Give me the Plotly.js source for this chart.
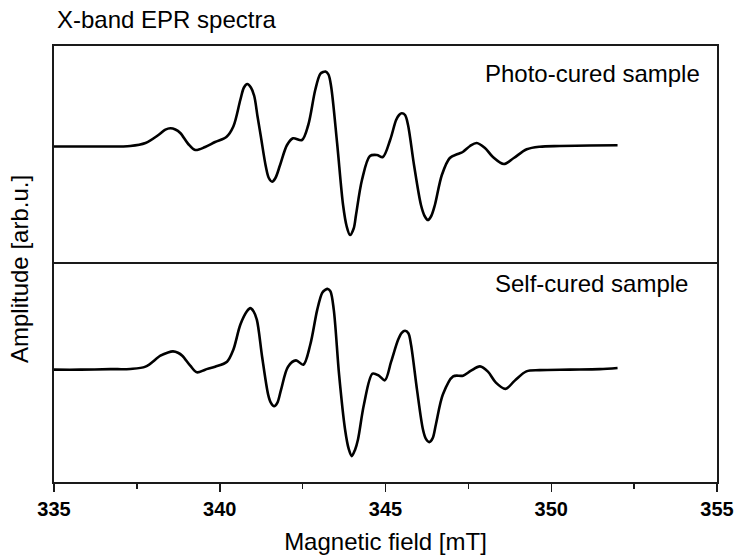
<!DOCTYPE html>
<html>
<head>
<meta charset="utf-8">
<script src="https://cdn.plot.ly/plotly-3.0.1.min.js"></script>
<style>html,body{margin:0;padding:0;background:#fff;}#chart{width:734px;height:559px;}</style>
</head>
<body>
<div id="chart"></div>
<script>
// Magnetic field [mT] and amplitude [arb.u.]
var fieldPhoto = [335.0, 336.40, 337.30, 337.76, 338.15, 338.36, 338.51, 338.66, 338.81, 339.05, 339.26, 339.56, 339.86, 340.20, 340.41, 340.62, 340.73, 340.83, 340.94, 341.04, 341.14, 341.24, 341.39, 341.48, 341.58, 341.68, 341.82, 342.03, 342.21, 342.48, 342.67, 342.88, 343.03, 343.12, 343.19, 343.28, 343.36, 343.54, 343.72, 343.83, 343.93, 344.04, 344.11, 344.29, 344.53, 344.74, 344.92, 345.14, 345.32, 345.41, 345.49, 345.59, 345.68, 345.86, 346.07, 346.18, 346.28, 346.38, 346.49, 346.70, 346.94, 347.18, 347.33, 347.55, 347.75, 348.00, 348.24, 348.57, 348.87, 349.26, 349.65, 350.26, 351.16, 352.00];
var ampPhoto = [0, 0, 0.5, 3.5, 11.5, 16.8, 18.2, 17, 13.5, 2.5, -3.5, -0.5, 4.5, 9.5, 20, 46.5, 59, 62.5, 59, 50.5, 30, 10, -20, -31.5, -35.2, -31.5, -18.5, 1.5, 8.2, 6.5, 21.5, 56.5, 72.5, 74.5, 75, 72, 60, 3.5, -58.5, -80, -88.5, -82, -68.5, -33.5, -9.5, -8.5, -10.5, 6.5, 26.5, 31.5, 33.2, 31.5, 21.5, -18.5, -58.5, -69.5, -73.5, -69.5, -58.5, -28.5, -11.5, -7.5, -5.5, 0.5, 3.5, -1.5, -10.5, -17.5, -11.5, -2.8, -0.2, 0.5, 1, 1.2];

var fieldSelf = [335.0, 335.80, 336.70, 337.30, 337.76, 338.21, 338.44, 338.59, 338.74, 338.87, 339.11, 339.31, 339.56, 339.86, 340.22, 340.41, 340.62, 340.82, 340.92, 341.02, 341.12, 341.28, 341.46, 341.54, 341.64, 341.74, 341.85, 342.06, 342.30, 342.52, 342.73, 342.94, 343.09, 343.18, 343.26, 343.34, 343.44, 343.60, 343.78, 343.89, 343.98, 344.08, 344.17, 344.35, 344.61, 344.80, 344.98, 345.17, 345.38, 345.49, 345.59, 345.69, 345.77, 345.95, 346.13, 346.22, 346.32, 346.42, 346.52, 346.73, 347.04, 347.34, 347.58, 347.85, 348.09, 348.33, 348.62, 348.90, 349.25, 349.65, 350.56, 351.46, 352.00];
var ampSelf = [-0.5, -0.5, 0, 0.2, 2.5, 13.5, 16.8, 17.8, 16.5, 13.5, 3.5, -3.2, -0.5, 2.5, 7.5, 19.5, 44.5, 58, 61.2, 58, 49.5, 12, -25.5, -33.5, -37.2, -33.5, -20.5, 2.5, 8.8, 4.5, 24.5, 59.5, 76.5, 79.5, 80.5, 78, 59.5, -5.5, -60.5, -80, -87.2, -81, -70.5, -35.5, -4.5, -6.5, -11.2, 7.5, 29.5, 36.5, 38.5, 36, 24.5, -20.5, -60.5, -70, -73.2, -69.5, -55.5, -25.5, -7.2, -6.5, -1.5, 2.8, -2.5, -13.5, -19.8, -11.5, -2.2, -1, -0.5, 0, 1.2];

var xTickVals = [335, 340, 345, 350, 355];
var xTickText = ['335', '340', '345', '350', '355'];
var panelLabels = ['Photo-cured sample', 'Self-cured sample'];

var lineStyle = {color: '#000', width: 2.6, shape: 'spline', smoothing: 0.9};
var traces = [
  {x: fieldPhoto, y: ampPhoto, xaxis: 'x2', yaxis: 'y2', mode: 'lines', line: lineStyle, name: panelLabels[0], hoverinfo: 'x+y'},
  {x: fieldSelf, y: ampSelf, xaxis: 'x', yaxis: 'y', mode: 'lines', line: lineStyle, name: panelLabels[1], hoverinfo: 'x+y'}
];

var axColor = '#1a1a1a';
var txtFont = 'Liberation Sans, Arial, sans-serif';
var layout = {
  width: 734, height: 559,
  margin: {l: 54, r: 17, t: 46, b: 77},
  paper_bgcolor: '#fff', plot_bgcolor: '#fff',
  showlegend: false,
  font: {family: txtFont, color: '#000'},
  title: {text: 'X-band EPR spectra', x: 57/734, xanchor: 'left', xref: 'container', y: 1 - 20/559, yref: 'container', yanchor: 'middle', font: {size: 24, family: txtFont, color: '#000'}},
  xaxis: {
    anchor: 'y', domain: [0, 1], range: [335, 355],
    tickvals: xTickVals, ticktext: xTickText,
    ticks: 'outside', ticklen: 8, tickwidth: 1.5, tickcolor: axColor,
    minor: {dtick: 2.5, tick0: 335, ticks: 'outside', ticklen: 5, tickwidth: 1.5, tickcolor: axColor, showgrid: false},
    showline: true, linecolor: axColor, linewidth: 1.8, mirror: true,
    showgrid: false, zeroline: false,
    tickfont: {family: 'Liberation Sans Narrow, Arial Narrow, Liberation Sans, sans-serif', size: 20, weight: 'bold', color: '#000'},
    title: {text: 'Magnetic field [mT]', standoff: 14, font: {size: 24, family: txtFont, color: '#000'}}
  },
  yaxis: {
    anchor: 'x', domain: [0, 0.5], range: [-113.2, 105.5],
    showticklabels: false, ticks: '', showgrid: false, zeroline: false,
    showline: true, linecolor: axColor, linewidth: 1.8, mirror: true
  },
  xaxis2: {
    anchor: 'y2', domain: [0, 1], range: [335, 355], matches: 'x', side: 'top',
    showticklabels: false, ticks: '', showgrid: false, zeroline: false,
    showline: true, linecolor: axColor, linewidth: 1.8, mirror: false
  },
  yaxis2: {
    anchor: 'x2', domain: [0.5, 1], range: [-117.5, 100.5],
    showticklabels: false, ticks: '', showgrid: false, zeroline: false,
    showline: true, linecolor: axColor, linewidth: 1.8, mirror: true
  },
  annotations: [
    {text: panelLabels[0], xref: 'paper', yref: 'paper', x: (702 - 54) / 663, y: (482 - 73) / 436, xanchor: 'right', yanchor: 'middle', showarrow: false, font: {size: 24, family: txtFont, color: '#000'}},
    {text: panelLabels[1], xref: 'paper', yref: 'paper', x: (690 - 54) / 663, y: (482 - 283) / 436, xanchor: 'right', yanchor: 'middle', showarrow: false, font: {size: 24, family: txtFont, color: '#000'}},
    {text: 'Amplitude [arb.u.]', xref: 'paper', yref: 'paper', x: (19 - 54) / 663, y: (482 - 269) / 436, xanchor: 'center', yanchor: 'middle', textangle: -90, showarrow: false, font: {size: 24, family: txtFont, color: '#000'}}
  ]
};

Plotly.newPlot('chart', traces, layout, {displayModeBar: false, staticPlot: true});
</script>
</body>
</html>
